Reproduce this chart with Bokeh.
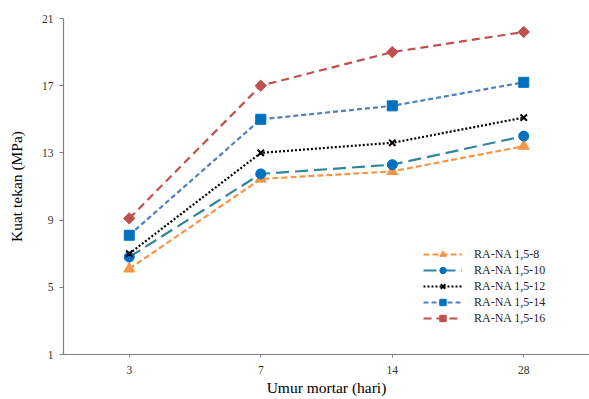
import math
from bokeh.plotting import figure
from bokeh.models import FactorRange, Range1d, FixedTicker, Legend, LegendItem
from bokeh.embed import file_html
from bokeh.resources import INLINE

# Curing age (days) and compressive strength (MPa) per mix
ages = ["3", "7", "14", "28"]
series_names = ["RA-NA 1,5-8", "RA-NA 1,5-10", "RA-NA 1,5-12", "RA-NA 1,5-14", "RA-NA 1,5-16"]
ra_na_8 = [6.1, 11.45, 11.9, 13.4]
ra_na_10 = [6.8, 11.75, 12.3, 14.0]
ra_na_12 = [7.0, 13.0, 13.6, 15.1]
ra_na_14 = [8.1, 15.0, 15.8, 17.2]
ra_na_16 = [9.1, 17.0, 19.0, 20.2]
y_ticks = [1, 5, 9, 13, 17, 21]

FONT = "Liberation Serif"

p = figure(
    width=589, height=399,
    x_range=FactorRange(*ages), y_range=Range1d(1, 21),
    output_backend="svg", toolbar_location=None,
    min_border_left=63, min_border_right=0, min_border_top=18, min_border_bottom=45,
)
p.outline_line_color = None
p.xgrid.grid_line_color = None
p.ygrid.grid_line_color = None
p.background_fill_color = "white"

styles = [
    # values, line colour, dash, marker, marker colour, marker size, angle
    (ra_na_8, "#F79646", "6 3", "triangle", "#F79646", 11, 0),
    (ra_na_10, "#31859C", "13 6", "circle", "#0070C0", 10, 0),
    (ra_na_12, "#000000", "2 2", "x", "#000000", 9, 0),
    (ra_na_14, "#4F81BD", "5 3", "square", "#0070C0", 10, 0),
    (ra_na_16, "#C0504D", "8 5", "square", "#C0504D", 8, math.pi / 4),
]

items = []
for name, (vals, lc, dash, marker, mc, size, ang) in zip(series_names, styles):
    ln = p.line(ages, vals, line_color=lc, line_width=2.2, line_dash=dash)
    sc = p.scatter(ages, vals, marker=marker, size=size, angle=ang, fill_color=mc,
                   line_color=mc, line_width=2 if marker == "x" else 1)
    items.append(LegendItem(label=name, renderers=[ln, sc]))

legend = Legend(items=items, location=(360, 28), padding=0, margin=0, spacing=0,
                glyph_width=39, glyph_height=16, label_standoff=12,
                label_text_font=FONT, label_text_font_size="12px",
                label_text_color="#262626", border_line_color=None,
                background_fill_alpha=0)
p.add_layout(legend)

for ax in (p.xaxis[0], p.yaxis[0]):
    ax.axis_line_color = "#7f7f7f"
    ax.axis_line_width = 1.2
    ax.major_tick_line_color = "#7f7f7f"
    ax.minor_tick_line_color = None
    ax.major_tick_in = 0
    ax.major_label_text_font = FONT
    ax.major_label_text_font_size = "11.5px"
    ax.major_label_text_color = "#333333"
    ax.axis_label_text_font = FONT
    ax.axis_label_text_font_size = "15.5px"
    ax.axis_label_text_font_style = "normal"
    ax.axis_label_text_color = "#000000"

p.yaxis.ticker = FixedTicker(ticks=y_ticks)
p.yaxis.major_tick_out = 4
p.yaxis.axis_label = "Kuat tekan (MPa)"
p.yaxis.major_label_standoff = 6
p.yaxis.axis_label_standoff = 14

p.xaxis.major_tick_out = 3
p.xaxis.axis_label = "Umur mortar (hari)"
p.xaxis.major_label_standoff = 8
p.xaxis.axis_label_standoff = 2

open("out.html", "w").write(file_html(p, INLINE))
